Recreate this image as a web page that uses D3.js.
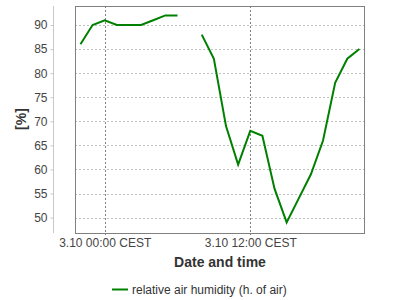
<!DOCTYPE html>
<html><head><meta charset="utf-8">
<script src="https://cdn.jsdelivr.net/npm/d3@7"></script>
<style>
html,body{margin:0;padding:0;background:#fff;}
svg{display:block;font-family:"Liberation Sans",Arial,sans-serif;}
</style></head>
<body><svg id="c" width="400" height="300"></svg>
<script>
// hours relative to 3.10 00:00 CEST
const hours = [-2,-1,0,1,2,3,4,5,6,7,8,9,10,11,12,13,14,15,16,17,18,19,20,21];
const humidity = [86,90,91,90,90,90,91,92,92,null,88,83,69,61,68,67,56,49,54,59,66,78,83,85];
const yTicks = [50,55,60,65,70,75,80,85,90];
const xTickHours = [0,12];
const xTickLabels = ["3.10 00:00 CEST","3.10 12:00 CEST"];
const seriesName = "relative air humidity (h. of air)";
const xTitle = "Date and time";
const yTitle = "[%]";

const svg = d3.select("#c");
const L=75, R=365, T=6, B=233;
const x = d3.scaleLinear().domain([-2.45, 21.46]).range([L, R]);
const y = d3.scaleLinear().domain([46.8, 93.95]).range([B, T]);

// horizontal grid
svg.append("g").selectAll("line").data(yTicks).join("line")
  .attr("x1", L).attr("x2", R)
  .attr("y1", d => Math.round(y(d)) + 0.5).attr("y2", d => Math.round(y(d)) + 0.5)
  .attr("stroke", "#c0c0c0").attr("stroke-dasharray", "2,2");

// vertical grid
svg.append("g").selectAll("line").data(xTickHours).join("line")
  .attr("x1", d => Math.round(x(d)) + 0.5).attr("x2", d => Math.round(x(d)) + 0.5)
  .attr("y1", T).attr("y2", B + 2)
  .attr("stroke", "#808080").attr("stroke-dasharray", "2,2");

// frame
svg.append("rect").attr("x", L + 0.5).attr("y", T + 0.5)
  .attr("width", R - L - 1).attr("height", B - T)
  .attr("fill", "none").attr("stroke", "#808080");

// y axis (separate)
const yAxis = svg.append("g").attr("transform", "translate(53.5,0)")
  .call(d3.axisLeft(y).tickValues(yTicks).tickSize(3).tickPadding(3).tickFormat(d3.format("d")));
yAxis.select(".domain").attr("stroke", "#c8c8c8").attr("d", `M0,${T}V${B}`);
yAxis.selectAll(".tick line").attr("stroke", "#c8c8c8");
yAxis.selectAll("text").attr("fill", "#444").attr("font-size", 12)
  .attr("font-family", "Liberation Sans, Arial, sans-serif");

// x tick labels
const xAxis = svg.append("g").attr("transform", `translate(0,${B})`)
  .call(d3.axisBottom(x).tickValues(xTickHours).tickSize(0).tickPadding(5)
    .tickFormat((d, i) => xTickLabels[i]));
xAxis.select(".domain").remove();
xAxis.selectAll("text").attr("fill", "#444").attr("font-size", 12)
  .attr("font-family", "Liberation Sans, Arial, sans-serif");

// line
const line = d3.line().defined(d => d[1] !== null)
  .x(d => x(d[0])).y(d => y(d[1]));
svg.append("path").datum(hours.map((h, i) => [h, humidity[i]]))
  .attr("d", line).attr("fill", "none").attr("stroke", "#008000")
  .attr("stroke-width", 2).attr("stroke-linejoin", "miter");

// titles
svg.append("text").attr("x", (L + R) / 2).attr("y", 267)
  .attr("text-anchor", "middle").attr("font-size", 14).attr("font-weight", "bold")
  .attr("fill", "#333").text(xTitle);
svg.append("text").attr("transform", "translate(26,119) rotate(-90)")
  .attr("text-anchor", "middle").attr("font-size", 14).attr("font-weight", "bold")
  .attr("fill", "#333").text(yTitle);

// legend
svg.append("line").attr("x1", 112).attr("x2", 128).attr("y1", 289.5).attr("y2", 289.5)
  .attr("stroke", "#008000").attr("stroke-width", 2);
svg.append("text").attr("x", 132).attr("y", 293.5).attr("font-size", 12)
  .attr("fill", "#333").text(seriesName);
</script></body></html>
